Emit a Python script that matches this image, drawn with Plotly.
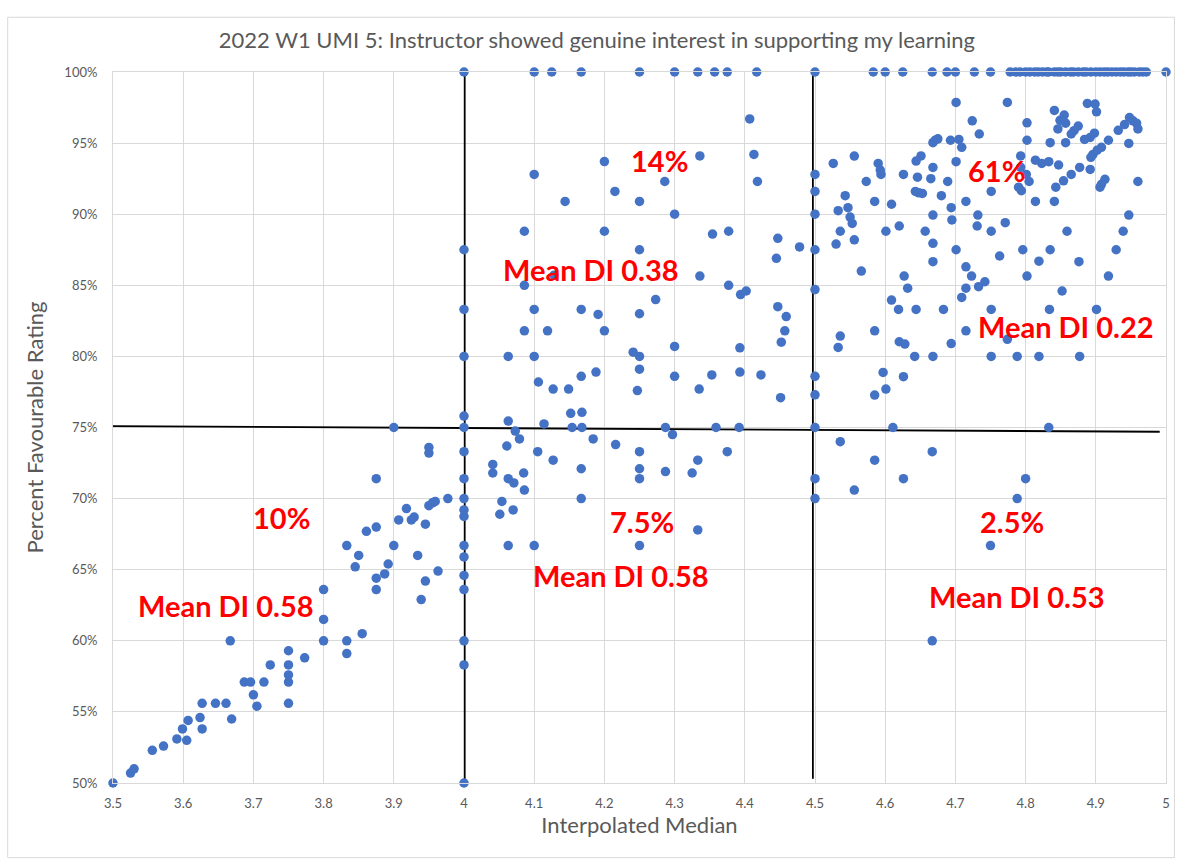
import plotly.graph_objects as go

# ---------------- data ----------------
# Lower-left quadrant (median < 4, favourable < 75%)
ll_x = [3.5, 3.525, 3.53, 3.556, 3.572, 3.591, 3.599, 3.605, 3.607, 3.624, 3.627, 3.627,
        3.646, 3.661, 3.669, 3.667, 3.687, 3.696, 3.70, 3.705, 3.715, 3.724, 3.75, 3.75,
        3.75, 3.75, 3.75, 3.773, 3.80, 3.80, 3.80, 3.833, 3.833, 3.833, 3.845, 3.85,
        3.855, 3.861, 3.875, 3.875, 3.875, 3.875, 3.887, 3.892, 3.9, 3.9, 3.907, 3.918,
        3.925, 3.929, 3.934, 3.945, 3.945, 3.939, 3.95, 3.95, 3.95, 3.955, 3.959, 3.963,
        3.977]
ll_y = [50.0, 50.7, 51.0, 52.3, 52.6, 53.1, 53.8, 53.0, 54.4, 54.6, 53.8, 55.6,
        55.6, 55.6, 54.5, 60.0, 57.1, 57.1, 56.2, 55.4, 57.1, 58.3, 59.3, 58.3,
        57.6, 57.1, 55.6, 58.8, 63.6, 61.5, 60.0, 60.0, 59.1, 66.7, 65.2, 66.0,
        60.5, 67.7, 71.4, 68.0, 64.4, 63.6, 64.7, 65.4, 66.7, 75.0, 68.5, 69.3,
        68.5, 68.7, 66.0, 68.2, 64.2, 62.9, 73.6, 73.2, 69.5, 69.7, 69.8, 64.9,
        70.0]

# Median exactly 4.0
m4_y = [50.0, 58.3, 60.0, 63.6, 64.6, 65.9, 66.7, 68.75, 69.2, 70.0, 71.4, 73.3,
        75.0, 75.8, 80.0, 83.3, 87.5, 100.0]
m4_x = [4.0] * len(m4_y)

# Lower-middle quadrant (4 < median < 4.5)
lm_x = [4.063, 4.073, 4.079, 4.061, 4.114, 4.154, 4.168, 4.041, 4.041, 4.063, 4.071,
        4.085, 4.086, 4.105, 4.127, 4.054, 4.051, 4.070, 4.063, 4.1, 4.167, 4.167,
        4.184, 4.216, 4.25, 4.25, 4.25, 4.25, 4.287, 4.297, 4.287, 4.325, 4.333,
        4.333, 4.359, 4.392, 4.375]
lm_y = [75.45, 74.75, 74.2, 73.7, 75.25, 75.0, 75.0, 72.4, 71.8, 71.4, 71.1,
        71.8, 70.6, 73.3, 72.7, 69.8, 68.9, 69.2, 66.7, 66.7, 72.1, 70.0,
        74.2, 73.8, 73.3, 72.1, 71.4, 66.7, 75.0, 74.5, 71.9, 71.8, 72.7,
        67.8, 75.0, 75.0, 73.3]

# Median exactly 4.5
m45_y = [100.0, 92.8, 91.6, 90.0, 87.5, 84.7, 78.6, 77.3, 75.0, 71.4, 70.0]
m45_x = [4.5] * len(m45_y)

# Lower-right quadrant (median > 4.5, favourable < 75%)
lr_x = [4.536, 4.667, 4.585, 4.626, 4.556, 4.80, 4.788, 4.75, 4.667, 4.611, 4.833]
lr_y = [74.0, 73.3, 72.7, 71.4, 70.6, 71.4, 70.0, 66.7, 60.0, 75.0, 75.0]

# Upper-middle quadrant (4 < median < 4.5, favourable > 75%)
um_x = [4.1, 4.125, 4.167, 4.25, 4.3, 4.333, 4.357, 4.375, 4.417,
        4.407, 4.2, 4.336, 4.413, 4.1, 4.286, 4.418, 4.215, 4.144, 4.25, 4.3,
        4.086, 4.2, 4.354, 4.377, 4.447, 4.478, 4.445, 4.25, 4.128, 4.086,
        4.336, 4.273, 4.377, 4.394, 4.402, 4.1, 4.167, 4.191, 4.25, 4.447,
        4.459, 4.086, 4.119, 4.2, 4.457, 4.452, 4.3, 4.393, 4.063, 4.1,
        4.241, 4.25, 4.25, 4.188, 4.167, 4.106, 4.127, 4.149, 4.247, 4.3,
        4.353, 4.393, 4.423, 4.335, 4.451, 4.152, 4.168]
um_y = [100.0, 100.0, 100.0, 100.0, 100.0, 100.0, 100.0, 100.0, 100.0,
        96.7, 93.7, 94.1, 94.2, 92.8, 92.3, 92.3, 91.6, 90.9, 90.9, 90.0,
        88.8, 88.8, 88.6, 88.8, 88.3, 87.7, 86.9, 87.5, 85.7, 85.0,
        85.65, 84.0, 85.0, 84.35, 84.6, 83.3, 83.3, 82.95, 83.0, 83.5,
        82.8, 81.8, 81.8, 81.8, 81.8, 81.0, 80.7, 80.6, 80.0, 80.0,
        80.3, 80.0, 79.1, 78.9, 78.6, 78.2, 77.7, 77.7, 77.6, 78.6,
        78.7, 78.9, 78.7, 77.7, 77.1, 76.0, 76.07]

# Upper-right quadrant (median > 4.5, favourable > 75%)
ur_x = [4.583, 4.6, 4.625, 4.667, 4.688, 4.7, 4.727, 4.75,
        4.778, 4.786, 4.792, 4.8, 4.806, 4.813, 4.818, 4.824, 4.83, 4.833, 4.841,
        4.846, 4.85, 4.857, 4.864, 4.868, 4.875, 4.882, 4.886, 4.893, 4.9, 4.906,
        4.912, 4.917, 4.923, 4.929, 4.935, 4.94, 4.946, 4.95, 4.955, 4.962, 4.967,
        4.972, 5.0,
        4.701, 4.724, 4.734, 4.668, 4.671, 4.675, 4.693, 4.705, 4.709, 4.701,
        4.651, 4.644, 4.668, 4.526, 4.556, 4.59, 4.593, 4.594, 4.626, 4.646,
        4.665, 4.689, 4.573, 4.543, 4.643, 4.648, 4.653, 4.68, 4.715, 4.585,
        4.609, 4.547, 4.533, 4.55, 4.553, 4.694, 4.695, 4.668, 4.732, 4.731,
        4.536, 4.601, 4.62, 4.657, 4.53, 4.556, 4.668, 4.701, 4.668, 4.566,
        4.715, 4.723, 4.627, 4.632, 4.715, 4.709, 4.733, 4.742, 4.609, 4.619,
        4.644, 4.683, 4.585, 4.536, 4.533, 4.715, 4.62, 4.628, 4.694, 4.642,
        4.668, 4.597, 4.626, 4.585, 4.601,
        4.774, 4.888, 4.899, 4.901, 4.841, 4.855, 4.849, 4.846, 4.857, 4.802,
        4.948, 4.953, 4.958, 4.96, 4.941, 4.932, 4.875, 4.869, 4.865, 4.898,
        4.892, 4.884, 4.802, 4.918, 4.835, 4.857, 4.947, 4.908, 4.902, 4.896,
        4.893, 4.793, 4.814, 4.823, 4.833, 4.847, 4.877, 4.892, 4.865, 4.793,
        4.801, 4.805, 4.854, 4.843, 4.913, 4.908, 4.906, 4.96, 4.79, 4.794,
        4.751, 4.814, 4.841, 4.947, 4.771, 4.751, 4.859, 4.939, 4.929, 4.796,
        4.835, 4.763, 4.819, 4.876, 4.802, 4.918, 4.852, 4.751, 4.834, 4.901,
        4.774, 4.751, 4.788, 4.819, 4.877]
ur_y = [100.0, 100.0, 100.0, 100.0, 100.0, 100.0, 100.0, 100.0,
        100.0, 100.0, 100.0, 100.0, 100.0, 100.0, 100.0, 100.0, 100.0, 100.0, 100.0,
        100.0, 100.0, 100.0, 100.0, 100.0, 100.0, 100.0, 100.0, 100.0, 100.0, 100.0,
        100.0, 100.0, 100.0, 100.0, 100.0, 100.0, 100.0, 100.0, 100.0, 100.0, 100.0,
        100.0, 100.0,
        97.86, 96.57, 95.64, 95.03, 95.2, 95.3, 95.2, 95.26, 94.7, 93.69,
        94.1, 93.74, 93.29, 93.57, 94.09, 93.57, 93.1, 92.8, 92.8, 92.6,
        92.5, 92.3, 92.3, 91.3, 91.6, 91.5, 91.46, 91.3, 90.9, 90.9,
        90.7, 90.46, 90.25, 89.8, 89.35, 90.46, 89.6, 89.94, 89.94, 89.17,
        88.8, 88.8, 89.17, 88.8, 87.9, 88.2, 87.95, 87.5, 86.66, 86.0,
        86.3, 85.65, 85.65, 84.8, 84.8, 84.15, 84.9, 85.25, 83.96, 83.3,
        83.3, 83.3, 81.8, 81.43, 80.63, 81.8, 81.03, 80.87, 80.9, 80.0,
        80.0, 78.87, 78.57, 77.28, 77.7,
        97.86, 97.79, 97.75, 97.2, 97.3, 96.97, 96.6, 96.0, 96.4, 96.43,
        96.8, 96.57, 96.4, 96.0, 96.3, 95.9, 96.2, 95.87, 95.64, 95.7,
        95.4, 95.26, 95.2, 95.2, 95.03, 95.03, 94.98, 94.7, 94.5, 94.2,
        94.0, 94.1, 93.8, 93.57, 93.69, 93.46, 93.29, 93.15, 92.8, 93.3,
        92.8, 92.3, 92.35, 91.9, 92.45, 92.1, 91.9, 92.3, 91.9, 91.65,
        91.6, 90.9, 90.9, 89.94, 89.4, 88.8, 88.8, 88.8, 87.5, 87.5,
        87.5, 87.06, 86.7, 86.66, 85.65, 85.65, 84.6, 83.3, 83.3, 83.3,
        81.2, 80.0, 80.0, 80.0, 80.0]

interp_median = ll_x + m4_x + lm_x + m45_x + lr_x + um_x + ur_x
pct_favourable = ll_y + m4_y + lm_y + m45_y + lr_y + um_y + ur_y

x_ticks = [3.5, 3.6, 3.7, 3.8, 3.9, 4.0, 4.1, 4.2, 4.3, 4.4, 4.5, 4.6, 4.7, 4.8, 4.9, 5.0]
x_tick_labels = ["3.5", "3.6", "3.7", "3.8", "3.9", "4", "4.1", "4.2", "4.3", "4.4",
                 "4.5", "4.6", "4.7", "4.8", "4.9", "5"]
y_ticks = [50, 55, 60, 65, 70, 75, 80, 85, 90, 95, 100]
y_tick_labels = ["50%", "55%", "60%", "65%", "70%", "75%", "80%", "85%", "90%", "95%", "100%"]

# Quadrant annotations: (text, x, y)
quad_labels = [
    ("14%", 4.278, 93.8),
    ("61%", 4.758, 93.1),
    ("Mean DI 0.38", 4.181, 86.1),
    ("Mean DI 0.22", 4.858, 82.1),
    ("10%", 3.740, 68.7),
    ("7.5%", 4.254, 68.4),
    ("Mean DI 0.58", 4.224, 64.6),
    ("2.5%", 4.780, 68.4),
    ("Mean DI 0.53", 4.788, 63.1),
    ("Mean DI 0.58", 3.661, 62.5),
]

# Quadrant divider lines (hand drawn in the original): ([x0, x1], [y0, y1])
dividers = [
    ([3.498, 4.991], [75.1, 74.7]),
    ([4.001, 4.001], [100.0, 50.0]),
    ([4.497, 4.497], [100.0, 50.3]),
]

FONT = "Lato, 'Open Sans', sans-serif"
GRAY = "#595959"

fig = go.Figure()
for (xs, ys) in dividers:
    fig.add_trace(go.Scatter(x=xs, y=ys, mode="lines", line=dict(color="black", width=1.8),
                             hoverinfo="skip", showlegend=False, cliponaxis=False))

fig.add_trace(go.Scatter(
    x=interp_median, y=pct_favourable, mode="markers",
    marker=dict(color="#4472C4", size=9.5),
    cliponaxis=False, showlegend=False,
))

for (t, x, y) in quad_labels:
    fig.add_annotation(x=x, y=y, xref="x", yref="y", text=t, showarrow=False,
                       font=dict(family=FONT, size=29, color="#FF0000", weight="bold"))

# chart border
fig.add_shape(type="rect", xref="paper", yref="paper",
              x0=-0.1, y0=-0.105, x1=1.008, y1=1.077,
              line=dict(color="#D9D9D9", width=1), layer="below")

fig.update_layout(
    width=1182, height=863,
    margin=dict(l=113, r=14, t=72, b=80),
    paper_bgcolor="white", plot_bgcolor="white",
    font=dict(family=FONT, color=GRAY),
    title=dict(text="2022 W1 UMI 5: Instructor showed genuine interest in supporting my learning",
               x=0.505, xref="container", xanchor="center", y=0.953, yanchor="middle",
               font=dict(family=FONT, size=22, color=GRAY)),
)
fig.update_xaxes(range=[3.5, 5.0], tickvals=x_ticks, ticktext=x_tick_labels,
                 showgrid=True, gridcolor="#D9D9D9", gridwidth=1, zeroline=False,
                 showline=True, linecolor="#D9D9D9", mirror=True,
                 tickfont=dict(size=13, color=GRAY), ticks="", ticklabelstandoff=8,
                 title=dict(text="Interpolated Median", font=dict(size=22, color=GRAY),
                            standoff=2))
fig.update_yaxes(range=[50, 100], tickvals=y_ticks, ticktext=y_tick_labels,
                 showgrid=True, gridcolor="#D9D9D9", gridwidth=1, zeroline=False,
                 showline=True, linecolor="#D9D9D9", mirror=True,
                 tickfont=dict(size=13, color=GRAY), ticks="", ticklabelstandoff=12,
                 title=dict(text="Percent Favourable Rating", font=dict(size=22, color=GRAY),
                            standoff=14))

fig.write_html("out.html", post_script="document.body.style.margin='0';",
               config={"displayModeBar": False})
